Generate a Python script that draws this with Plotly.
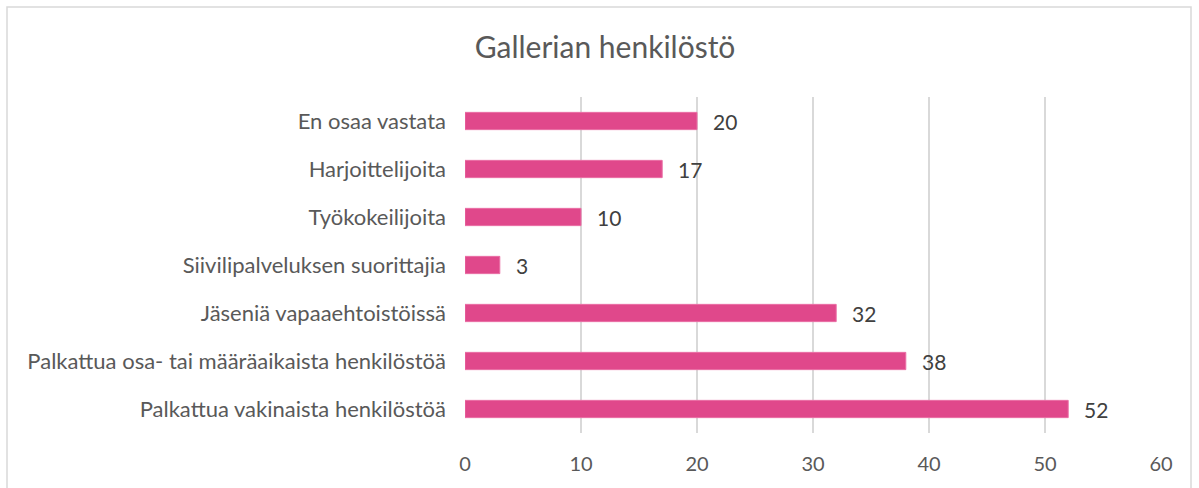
import plotly.graph_objects as go

categories = [
    "Palkattua vakinaista henkilöstöä",
    "Palkattua osa- tai määräaikaista henkilöstöä",
    "Jäseniä vapaaehtoistöissä",
    "Siivilipalveluksen suorittajia",
    "Työkokeilijoita",
    "Harjoittelijoita",
    "En osaa vastata",
]
values = [52, 38, 32, 3, 10, 17, 20]
x_ticks = [0, 10, 20, 30, 40, 50, 60]
title_text = "Gallerian henkilöstö"

W, H = 1199, 488
L, R, T, B = 465, 1161, 97, 433
font_family = "Lato, 'Open Sans', sans-serif"
txt = "#595959"
dark = "#404040"

fig = go.Figure()
fig.add_trace(go.Bar(
    y=categories, x=values, orientation="h",
    marker=dict(color="#e0488b", line=dict(color="#ea6fa5", width=1)),
    hoverinfo="skip",
))
for c, v in zip(categories, values):
    fig.add_annotation(x=v, y=c, text=str(v), showarrow=False, xanchor="left",
                       xshift=14, font=dict(size=21, color=dark, family=font_family))

pw, ph = R - L, B - T
def px(xp):
    return (xp - L) / pw
def py(yp):
    return (B - yp) / ph

fig.add_shape(type="rect", xref="paper", yref="paper",
              x0=px(7), x1=px(1191), y0=py(520), y1=py(7),
              line=dict(color="#d9d9d9", width=1.5), fillcolor="rgba(0,0,0,0)", layer="below")

fig.update_layout(
    width=W, height=H,
    margin=dict(l=L, r=W - R, t=T, b=H - B, autoexpand=False),
    paper_bgcolor="white", plot_bgcolor="white",
    showlegend=False,
    bargap=0.64,
    title=dict(text=title_text, x=605 / W, xref="container", xanchor="center",
               y=1 - 47 / H, yref="container", yanchor="middle",
               font=dict(size=30, color=txt, family=font_family)),
    font=dict(family=font_family, color=txt, size=20),
    xaxis=dict(range=[0, 60], tickvals=x_ticks, showgrid=True, gridcolor="#d9d9d9",
               gridwidth=1.5, zeroline=False, showline=False, ticks="",
               ticklabelstandoff=17, tickfont=dict(size=20, color=txt)),
    yaxis=dict(categoryorder="array", categoryarray=categories, showgrid=False,
               zeroline=False, showline=False, ticks="", ticklabelstandoff=18,
               tickfont=dict(size=22, color=txt)),
)
fig.write_html("out.html", config={"displayModeBar": False},
               post_script="document.body.style.margin='0';")
